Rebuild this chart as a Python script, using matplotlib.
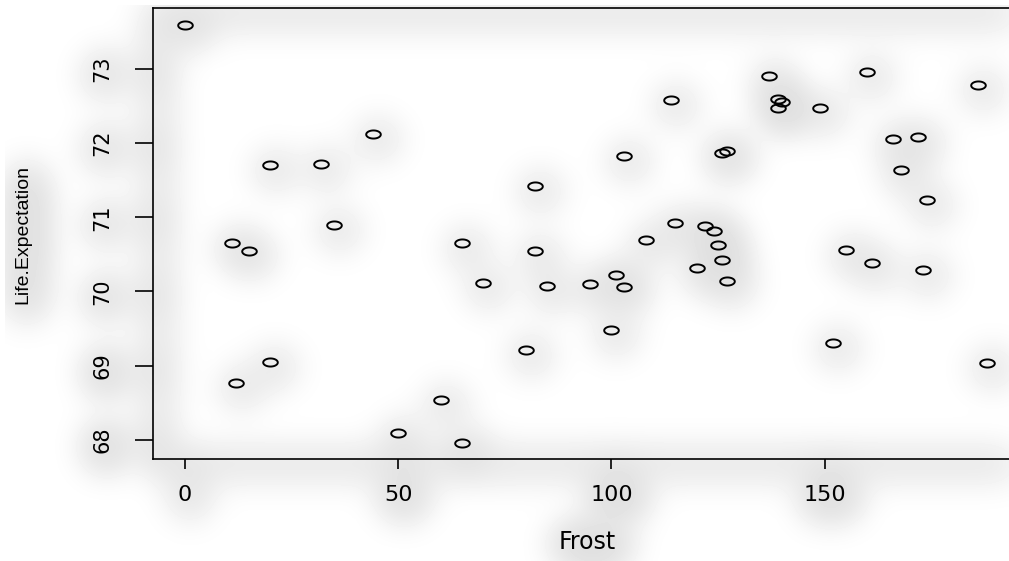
import numpy as np
import matplotlib
matplotlib.use('Agg')
import matplotlib.pyplot as plt
from matplotlib.path import Path

# state.x77 : Frost vs Life Exp
states = ['Alabama', 'Alaska', 'Arizona', 'Arkansas', 'California', 'Colorado',
          'Connecticut', 'Delaware', 'Florida', 'Georgia', 'Hawaii', 'Idaho',
          'Illinois', 'Indiana', 'Iowa', 'Kansas', 'Kentucky', 'Louisiana',
          'Maine', 'Maryland', 'Massachusetts', 'Michigan', 'Minnesota',
          'Mississippi', 'Missouri', 'Montana', 'Nebraska', 'Nevada',
          'New Hampshire', 'New Jersey', 'New Mexico', 'New York',
          'North Carolina', 'North Dakota', 'Ohio', 'Oklahoma', 'Oregon',
          'Pennsylvania', 'Rhode Island', 'South Carolina', 'South Dakota',
          'Tennessee', 'Texas', 'Utah', 'Vermont', 'Virginia', 'Washington',
          'West Virginia', 'Wisconsin', 'Wyoming']
frost = [20, 152, 15, 65, 20, 166, 139, 103, 11, 60, 0, 126, 127, 122, 140,
         114, 95, 12, 161, 101, 103, 125, 160, 50, 108, 155, 139, 188, 174,
         115, 120, 82, 80, 186, 124, 82, 44, 126, 127, 65, 172, 70, 35, 137,
         168, 85, 32, 100, 149, 173]
life_exp = [69.05, 69.31, 70.55, 70.66, 71.71, 72.06, 72.48, 70.06, 70.66,
            68.54, 73.60, 71.87, 70.14, 70.88, 72.56, 72.58, 70.10, 68.76,
            70.39, 70.22, 71.83, 70.63, 72.96, 68.09, 70.69, 70.56, 72.60,
            69.03, 71.23, 70.93, 70.32, 70.55, 69.21, 72.78, 70.82, 71.42,
            72.13, 70.43, 71.90, 67.96, 72.08, 70.11, 70.90, 72.90, 71.64,
            70.08, 71.72, 69.48, 72.48, 70.29]
xticks = [0, 50, 100, 150]
yticks = [68, 69, 70, 71, 72, 73]

x = np.array(frost, dtype=float)
y = np.array(life_exp)

# open ellipse marker (the picture is stretched horizontally)
t = np.linspace(0, 2 * np.pi, 60)
ell = Path(np.column_stack([1.8 * np.cos(t), np.sin(t)]), closed=True)

fig = plt.figure(figsize=(10.09, 5.61), dpi=100)
fig.patch.set_facecolor('white')
ax = fig.add_axes([0.1516, 0.181, 0.858, 0.805])
ax.patch.set_visible(False)

ax.plot(x, y, linestyle='none', marker=ell, markersize=10.5,
        markerfacecolor='none', markeredgecolor='black', markeredgewidth=1.4)

# R style 4% axis extension
xr = x.max() - x.min()
yr = y.max() - y.min()
ax.set_xlim(x.min() - 0.04 * xr, x.max() + 0.04 * xr)
ax.set_ylim(y.min() - 0.04 * yr, y.max() + 0.04 * yr)

ax.set_xticks(xticks)
ax.set_yticks(yticks)
ax.set_yticklabels([str(v) for v in yticks], rotation=90, va='center')
for sp in ax.spines.values():
    sp.set_linewidth(1.2)
ax.tick_params(axis='x', length=7.5, width=1.2, pad=11, labelsize=16)
ax.tick_params(axis='y', length=13, width=1.2, pad=16, labelsize=15)
for lab in ax.get_xticklabels() + ax.get_yticklabels():
    lab.set_family('DejaVu Sans')

fig.text(587 / 1009, 1 - 542 / 561, 'Frost', ha='center', va='center',
         fontsize=17, family='DejaVu Sans')
fig.text(23 / 1009, 1 - 234 / 561, 'Life.Expectation', ha='center',
         va='center', rotation=90, fontsize=14, family='Liberation Sans')

#%% soft gray glow behind everything (blurred copy of the drawing)
fig.canvas.draw()
img = np.asarray(fig.canvas.buffer_rgba())[..., :3].astype(float) / 255
dark = 1 - img.mean(axis=2)

def blur(a, s):
    r = int(3 * s)
    k = np.exp(-0.5 * (np.arange(-r, r + 1) / s) ** 2)
    k /= k.sum()
    a = np.pad(a, r, mode='constant')
    a = np.apply_along_axis(lambda v: np.convolve(v, k, mode='same'), 1, a)
    a = np.apply_along_axis(lambda v: np.convolve(v, k, mode='same'), 0, a)
    return a[r:-r, r:-r]

g = blur(dark, 18)
sh = np.zeros_like(g)
sh[5:, 5:] = g[:-5, :-5]
shade = 0.14 * (1 - np.exp(-sh * 20))
bg = 1 - shade
fig.figimage(bg, cmap='gray', vmin=0, vmax=1, zorder=-5, origin='upper')

fig.savefig('out.png', dpi=100)
